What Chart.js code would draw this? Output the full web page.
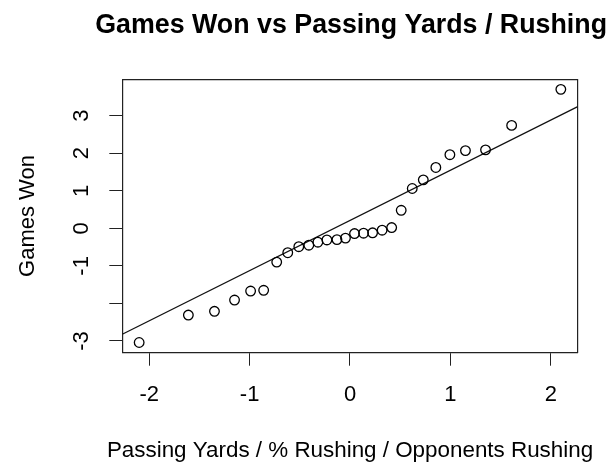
<!DOCTYPE html>
<html lang="en">
<head>
<meta charset="UTF-8" />
<title>Games Won vs Passing Yards / Rushing</title>
<script src="https://cdn.jsdelivr.net/npm/chart.js@4"></script>
<style>
  html, body { margin: 0; padding: 0; background: #fff; }
  canvas { display: block; }
</style>
</head>
<body>
<canvas id="qq" width="613" height="464"></canvas>
<script>
// theoretical quantiles (x) and sample values (y)
const quantiles = [-2.10, -1.61, -1.35, -1.15, -0.99, -0.86, -0.73, -0.62, -0.51, -0.41,
  -0.32, -0.23, -0.13, -0.045, 0.045, 0.135, 0.225, 0.32, 0.415, 0.51,
  0.62, 0.73, 0.855, 0.995, 1.15, 1.35, 1.61, 2.10];
const gamesWon = [-3.04, -2.31, -2.21, -1.91, -1.67, -1.65, -0.90, -0.65, -0.49, -0.45,
  -0.37, -0.31, -0.30, -0.26, -0.14, -0.13, -0.12, -0.05, 0.02, 0.48,
  1.06, 1.29, 1.62, 1.96, 2.07, 2.09, 2.74, 3.70];

// reference line (qqline) end points at the edges of the box
const lineX = [-2.268, 2.268];
const lineY = [-2.82, 3.24];

const xTicks = [-2, -1, 0, 1, 2];
const yTicks = [-3, -2, -1, 0, 1, 2, 3];
const yTickLabels = ["-3", "", "-1", "0", "1", "2", "3"];

const xTitle = "Passing Yards / % Rushing / Opponents Rushing";

const FONT = '"Liberation Sans", Arial, Helvetica, sans-serif';
const INK = "#222";

Chart.defaults.font.family = FONT;
Chart.defaults.color = "#000";

// the scale title gets squeezed to the plot width, so the x label is drawn here,
// centred under the plot like R does
const xTitlePlugin = {
  id: "xTitle",
  afterDraw(chart) {
    const { ctx, chartArea } = chart;
    ctx.save();
    ctx.font = "22.4px " + FONT;
    ctx.fillStyle = "#000";
    ctx.textAlign = "center";
    ctx.textBaseline = "alphabetic";
    ctx.fillText(xTitle, (chartArea.left + chartArea.right) / 2, chart.height - 6.7);
    ctx.restore();
  },
};

const ctx = document.getElementById("qq").getContext("2d");
new Chart(ctx, {
  type: "scatter",
  data: {
    datasets: [
      {
        label: "Games Won",
        data: quantiles.map((q, i) => ({ x: q, y: gamesWon[i] })),
        pointRadius: 4.8,
        pointHoverRadius: 4.8,
        pointBorderWidth: 1.3,
        borderColor: "#000",
        backgroundColor: "rgba(0,0,0,0)",
        showLine: false,
      },
      {
        type: "line",
        label: "qqline",
        data: lineX.map((x, i) => ({ x: x, y: lineY[i] })),
        borderColor: "#111",
        borderWidth: 1.3,
        pointRadius: 0,
        fill: false,
      },
    ],
  },
  options: {
    responsive: false,
    animation: false,
    devicePixelRatio: 1,
    layout: { padding: { left: 0, right: 6, top: 0, bottom: 0 } },
    scales: {
      x: {
        type: "linear",
        position: "bottom",
        min: -2.268,
        max: 2.268,
        afterBuildTicks: (s) => { s.ticks = xTicks.map((v) => ({ value: v })); },
        afterFit: (s) => { s.height = 111.3; },
        ticks: {
          font: { size: 22 },
          color: "#000",
          padding: 16,
          autoSkip: false,
          maxRotation: 0,
          callback: (v) => String(v),
        },
        grid: { drawOnChartArea: false, drawTicks: true, tickLength: 13, color: INK, lineWidth: 1 },
        border: { display: true, color: INK, width: 1.2 },
        title: { display: false },
      },
      y: {
        type: "linear",
        position: "left",
        min: -3.312,
        max: 3.969,
        afterBuildTicks: (s) => { s.ticks = yTicks.map((v) => ({ value: v })); },
        afterFit: (s) => { s.width = 122.3; },
        ticks: {
          font: { size: 22 },
          color: "#000",
          padding: 17.5,
          autoSkip: false,
          minRotation: 90,
          maxRotation: 90,
          crossAlign: "center",
          callback: (v, i) => yTickLabels[i],
        },
        grid: { drawOnChartArea: false, drawTicks: true, tickLength: 13, color: INK, lineWidth: 1 },
        border: { display: true, color: INK, width: 1.2 },
        title: {
          display: true,
          text: "Games Won",
          font: { size: 22 },
          color: "#000",
          padding: { top: 14.3, bottom: 0 },
        },
      },
      // top and right sides of the box
      x2: {
        type: "linear",
        position: "top",
        display: true,
        ticks: { display: false },
        grid: { display: false, drawTicks: false },
        border: { display: true, color: INK, width: 1.2 },
        afterFit: (s) => { s.height = 0; },
      },
      y2: {
        type: "linear",
        position: "right",
        display: true,
        ticks: { display: false },
        grid: { display: false, drawTicks: false },
        border: { display: true, color: INK, width: 1.2 },
        afterFit: (s) => { s.width = 29.3; },
      },
    },
    plugins: {
      legend: { display: false },
      tooltip: { enabled: false },
      title: {
        display: true,
        text: "Games Won vs Passing Yards / Rushing",
        align: "end",
        color: "#000",
        font: { size: 26.8, weight: "bold" },
        padding: { top: 9.4, bottom: 37.7 },
      },
    },
  },
  plugins: [xTitlePlugin],
});
</script>
</body>
</html>
